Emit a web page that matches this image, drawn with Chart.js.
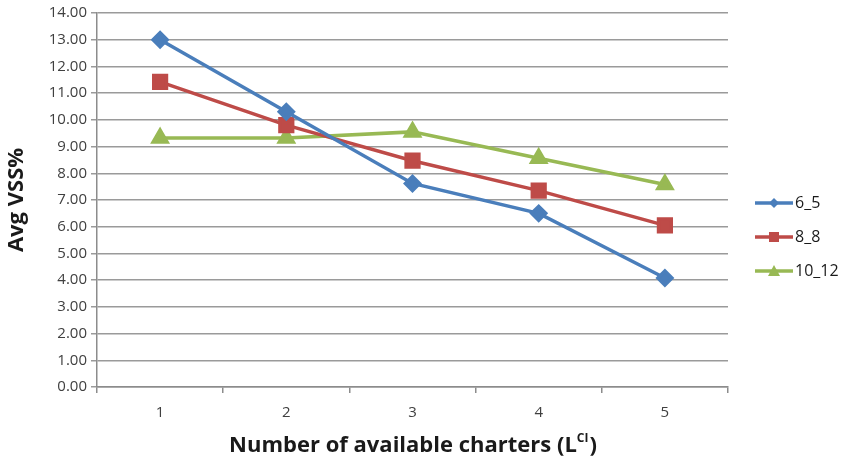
<!doctype html>
<html lang="en">
  <head>
    <meta charset="utf-8">
    <title>Avg VSS%</title>
    <script src="https://cdn.jsdelivr.net/npm/chart.js"></script>
    <style>
      html, body { margin: 0; padding: 0; background: #fff; }
      #wrap { width: 842px; height: 459px; }
    </style>
  </head>
  <body>
    <div id="wrap"><canvas id="vssChart" width="842" height="459"></canvas></div>

    <script>
    // data
    const categories = ['1', '2', '3', '4', '5'];
    const series65   = [13.00, 10.30, 7.62, 6.50, 4.08];
    const series88   = [11.42, 9.80, 8.47, 7.35, 6.05];
    const series1012 = [9.32, 9.32, 9.55, 8.56, 7.58];
    const seriesNames = ['6_5', '8_8', '10_12'];

    const FONT = "'Open Sans', 'Liberation Sans', sans-serif";
    const TEXT = '#1a1a1a';

    // legend drawn by hand: line with the marker in the middle, Excel style
    const sideLegend = {
      id: 'sideLegend',
      afterDraw(chart) {
        const ctx = chart.ctx;
        const rows = [203, 237, 271];
        ctx.save();
        chart.data.datasets.forEach((ds, i) => {
          const y = rows[i];
          ctx.strokeStyle = ds.borderColor;
          ctx.fillStyle = ds.borderColor;
          ctx.lineWidth = 3.5;
          ctx.beginPath(); ctx.moveTo(755, y); ctx.lineTo(793, y); ctx.stroke();
          ctx.beginPath();
          const cx = 774;
          if (ds.pointStyle === 'rectRot') {
            ctx.moveTo(cx, y - 5); ctx.lineTo(cx + 5, y); ctx.lineTo(cx, y + 5); ctx.lineTo(cx - 5, y);
          } else if (ds.pointStyle === 'rect') {
            ctx.rect(cx - 5, y - 5, 10, 10);
          } else {
            ctx.moveTo(cx, y - 6); ctx.lineTo(cx + 6, y + 5); ctx.lineTo(cx - 6, y + 5);
          }
          ctx.closePath(); ctx.fill();
          ctx.fillStyle = TEXT;
          ctx.font = '16px ' + FONT;
          ctx.textBaseline = 'middle';
          ctx.fillText(ds.label, 795, y);
        });
        ctx.restore();
      }
    };

    // x axis title drawn by hand so the superscript works
    const xTitlePlugin = {
      id: 'xTitle',
      afterDraw(chart) {
        const ctx = chart.ctx;
        const area = chart.chartArea;
        const main = 'Number of available charters (L';
        const sup = 'CI';
        const tail = ')';
        ctx.save();
        ctx.fillStyle = TEXT;
        ctx.textBaseline = 'alphabetic';
        ctx.font = 'bold 22px ' + FONT;
        const w1 = ctx.measureText(main).width;
        const w3 = ctx.measureText(tail).width;
        ctx.font = 'bold 12px ' + FONT;
        const w2 = ctx.measureText(sup).width;
        const cx = (area.left + area.right) / 2;
        let x = cx - (w1 + w2 + w3) / 2;
        const y = 452;
        ctx.font = 'bold 22px ' + FONT;
        ctx.fillText(main, x, y);
        x += w1;
        ctx.font = 'bold 12px ' + FONT;
        ctx.fillText(sup, x, y - 10);
        x += w2 + 1;
        ctx.font = 'bold 22px ' + FONT;
        ctx.fillText(tail, x, y);
        ctx.restore();
      }
    };

    const ctx = document.getElementById('vssChart').getContext('2d');
    const chart = new Chart(ctx, {
      type: 'line',
      data: {
        labels: categories,
        datasets: [
          { label: seriesNames[0], data: series65, borderColor: '#4A7EBB', backgroundColor: '#4A7EBB',
            pointStyle: 'rectRot', pointRadius: 7, pointHoverRadius: 7, borderWidth: 3.5 },
          { label: seriesNames[1], data: series88, borderColor: '#BE4B48', backgroundColor: '#BE4B48',
            pointStyle: 'rect', pointRadius: 9, pointHoverRadius: 9, borderWidth: 3.5 },
          { label: seriesNames[2], data: series1012, borderColor: '#98B954', backgroundColor: '#98B954',
            pointStyle: 'triangle', pointRadius: 8, pointHoverRadius: 8, borderWidth: 3.5 }
        ]
      },
      options: {
        responsive: false,
        animation: false,
        layout: { padding: { top: 9, bottom: 0, left: 4, right: 114 } },
        plugins: {
          tooltip: { enabled: false },
          legend: { display: false }
        },
        scales: {
          x: {
            offset: true,
            grid: { offset: true, drawOnChartArea: false, tickLength: 6, color: '#8c8c8c', lineWidth: 1.5 },
            border: { color: '#8c8c8c', width: 1.5 },
            ticks: { color: '#404040', font: { family: FONT, size: 15 }, padding: 11 },
            afterFit(scale) { scale.height = 72; }
          },
          y: {
            min: 0,
            max: 14,
            ticks: {
              stepSize: 1,
              color: '#404040',
              font: { family: FONT, size: 15 },
              padding: 4,
              callback: v => v.toFixed(2)
            },
            grid: { color: '#9a9a9a', lineWidth: 1.5, tickLength: 6 },
            border: { color: '#8c8c8c', width: 1.5 },
            title: {
              display: true,
              text: 'Avg VSS%',
              color: TEXT,
              font: { family: FONT, size: 22, weight: 'bold' },
              padding: { top: 0, bottom: 6 }
            },
            afterFit(scale) { scale.width = 93; }
          }
        }
      },
      plugins: [xTitlePlugin, sideLegend]
    });
    </script>
  </body>
</html>
